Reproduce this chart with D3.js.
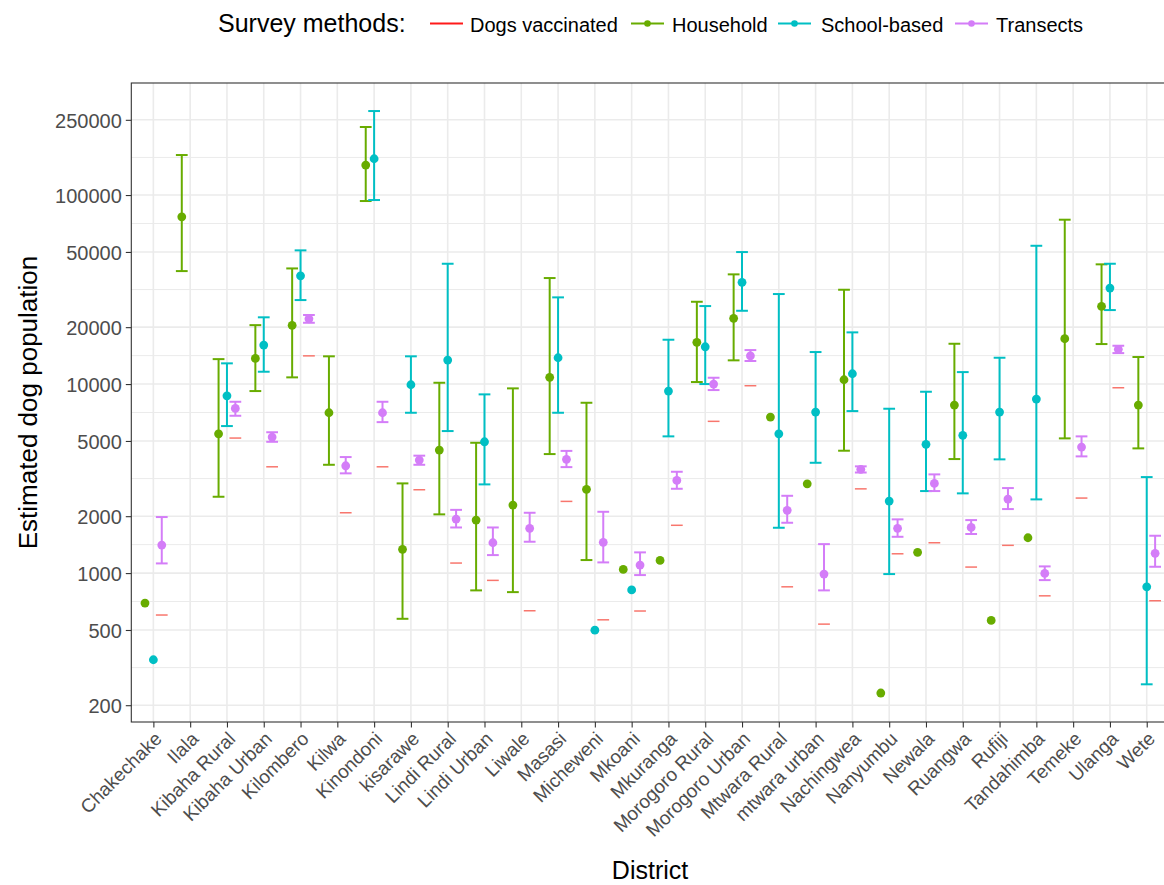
<!DOCTYPE html>
<html>
<head>
<meta charset="utf-8">
<script src="https://cdn.jsdelivr.net/npm/d3@7"></script>
<style>
  html, body { margin: 0; padding: 0; background: #fff; }
  svg { display: block; font-family: "Liberation Sans", Arial, sans-serif; }
</style>
</head>
<body>
<svg id="chart" width="1164" height="885"></svg>
<script>
// ---------------- DATA ----------------
const districts = ["Chakechake","Ilala","Kibaha Rural","Kibaha Urban","Kilombero","Kilwa","Kinondoni","kisarawe","Lindi Rural","Lindi Urban","Liwale","Masasi","Micheweni","Mkoani","Mkuranga","Morogoro Rural","Morogoro Urban","Mtwara Rural","mtwara urban","Nachingwea","Nanyumbu","Newala","Ruangwa","Rufiji","Tandahimba","Temeke","Ulanga","Wete"];

const vaccinated = [600, null, 5180, 3650, 14100, 2085, 3650, 2760, 1130, 915, 632, 2395, 566, 630, 1790, 6350, 9800, 846, 537, 2790, 1265, 1447, 1076, 1402, 758, 2494, 9560, 714];

const household   = [694, 76700, 5456, 13670, 20450, 7050, 144100, 1335, 4477, 1907, 2289, 10850, 2773, 1046, 1167, 16620, 22260, 6690, 2968, 10540, 232, 1287, 7742, 562, 1538, 17370, 25770, 7742];
const householdLo = [null, 39600, 2534, 9183, 10850, 3741, 92960, 573, 2045, 810, 793, 4262, 1172, null, null, 10250, 13350, null, null, 4440, null, null, 4011, null, null, 5160, 16280, 4568];
const householdHi = [null, 162800, 13550, 20500, 40900, 14020, 229000, 2982, 10160, 4891, 9488, 36380, 7963, null, null, 27250, 38050, null, null, 31550, null, null, 16340, null, null, 74050, 42990, 13900];

const school   = [348, null, 8670, 16080, 37400, null, 155600, 9915, 13400, 4951, null, 13780, 499, 815, 9183, 15750, 34520, 5456, 7111, 11340, 2404, 4797, 5353, 7111, 8328, null, 32200, 846];
const schoolLo = [null, null, 5995, 11620, 27820, null, 94100, 7050, 5641, 2946, null, 7050, null, null, 5288, 10000, 24420, 1737, 3833, 7196, 988, 2716, 2641, 3996, 2454, null, 24630, 258];
const schoolHi = [null, null, 12870, 22550, 50970, null, 278200, 14020, 43300, 8820, null, 28750, null, null, 17160, 25860, 49930, 29940, 14770, 18770, 7404, 9106, 11570, 13780, 53900, null, 43300, 3220];

const transects   = [1406, null, 7436, 5244, 22150, 3696, 7050, 3963, 1931, 1447, 1724, 3996, 1454, 1102, 3093, 10000, 14110, 2147, 988, 3538, 1724, 2982, 1745, 2463, 996, 4642, 15260, 1272];
const transectsLo = [1125, null, 6796, 4950, 21100, 3370, 6290, 3741, 1743, 1245, 1465, 3636, 1139, 976, 2793, 9295, 13240, 1846, 810, 3405, 1556, 2716, 1610, 2181, 918, 4144, 14580, 1080];
const transectsHi = [1979, null, 8060, 5560, 23200, 4110, 8060, 4180, 2160, 1743, 2085, 4430, 2110, 1287, 3436, 10800, 15130, 2564, 1423, 3670, 1924, 3328, 1907, 2817, 1085, 5288, 15950, 1576];

const yTicks = [200, 500, 1000, 2000, 5000, 10000, 20000, 50000, 100000, 250000];
const seriesNames = ["Dogs vaccinated", "Household", "School-based", "Transects"];
const legendTitle = "Survey methods:";
const xTitle = "District";
const yTitle = "Estimated dog population";

// ---------------- LAYOUT ----------------
const svg = d3.select("#chart");
const panel = { left: 131.3, right: 1168.8, top: 83, bottom: 722 };
const colors = { vacc: "#F8766D", vaccLegend: "#FF1A1A", household: "#68AC00", school: "#00BFC4", transects: "#D47DF8" };

const x = d3.scalePoint().domain(districts).range([panel.left, panel.right]).padding(0.6);
const step = x.step();
const y = d3.scaleLog().domain([163, 391500]).range([panel.bottom, panel.top]);

const dodge = step * 0.228;
const capHalf = step * 0.16;

// panel background
svg.append("rect").attr("x", panel.left).attr("y", panel.top)
  .attr("width", panel.right - panel.left).attr("height", panel.bottom - panel.top)
  .attr("fill", "#fff");

// minor gridlines (midpoints in log space)
const minor = [];
for (let i = 0; i < yTicks.length - 1; i++) minor.push(Math.sqrt(yTicks[i] * yTicks[i + 1]));
const grid = svg.append("g");
grid.selectAll("line.minor").data(minor).join("line")
  .attr("x1", panel.left).attr("x2", panel.right)
  .attr("y1", d => y(d)).attr("y2", d => y(d))
  .attr("stroke", "#EBEBEB").attr("stroke-width", 1);
grid.selectAll("line.majorY").data(yTicks).join("line")
  .attr("x1", panel.left).attr("x2", panel.right)
  .attr("y1", d => y(d)).attr("y2", d => y(d))
  .attr("stroke", "#EBEBEB").attr("stroke-width", 1.6);
grid.selectAll("line.majorX").data(districts).join("line")
  .attr("y1", panel.top).attr("y2", panel.bottom)
  .attr("x1", d => x(d)).attr("x2", d => x(d))
  .attr("stroke", "#EBEBEB").attr("stroke-width", 1.6);

// ---------------- MARKS ----------------
const marks = svg.append("g");

// vaccinated segments
const vaccData = districts.map((d, i) => ({ d, v: vaccinated[i] })).filter(o => o.v != null);
marks.selectAll("line.vacc").data(vaccData).join("line")
  .attr("x1", o => x(o.d) + dodge - capHalf).attr("x2", o => x(o.d) + dodge + capHalf)
  .attr("y1", o => y(o.v)).attr("y2", o => y(o.v))
  .attr("stroke", colors.vacc).attr("stroke-width", 1.5);

const series = [
  { key: "household", val: household, lo: householdLo, hi: householdHi, off: -dodge, color: colors.household },
  { key: "school", val: school, lo: schoolLo, hi: schoolHi, off: 0, color: colors.school },
  { key: "transects", val: transects, lo: transectsLo, hi: transectsHi, off: dodge, color: colors.transects }
];

series.forEach(s => {
  const data = districts.map((d, i) => ({ d, v: s.val[i], lo: s.lo[i], hi: s.hi[i] })).filter(o => o.v != null);
  const eb = data.filter(o => o.lo != null && o.hi != null);
  const g = marks.append("g").attr("stroke", s.color).attr("stroke-width", 2).attr("fill", "none");
  g.selectAll("line.v").data(eb).join("line")
    .attr("x1", o => x(o.d) + s.off).attr("x2", o => x(o.d) + s.off)
    .attr("y1", o => y(o.lo)).attr("y2", o => y(o.hi));
  g.selectAll("line.top").data(eb).join("line")
    .attr("x1", o => x(o.d) + s.off - capHalf).attr("x2", o => x(o.d) + s.off + capHalf)
    .attr("y1", o => y(o.hi)).attr("y2", o => y(o.hi));
  g.selectAll("line.bot").data(eb).join("line")
    .attr("x1", o => x(o.d) + s.off - capHalf).attr("x2", o => x(o.d) + s.off + capHalf)
    .attr("y1", o => y(o.lo)).attr("y2", o => y(o.lo));
  s.data = data;
});
series.forEach(s => {
  marks.append("g").selectAll("circle").data(s.data).join("circle")
    .attr("cx", o => x(o.d) + s.off).attr("cy", o => y(o.v)).attr("r", 4.4)
    .attr("fill", s.color);
});

// panel border
svg.append("rect").attr("x", panel.left).attr("y", panel.top)
  .attr("width", panel.right - panel.left).attr("height", panel.bottom - panel.top)
  .attr("fill", "none").attr("stroke", "#333333").attr("stroke-width", 1.1);

// ---------------- AXES ----------------
const yAxis = svg.append("g").attr("transform", `translate(${panel.left},0)`)
  .call(d3.axisLeft(y).tickValues(yTicks).tickFormat(d3.format("d")).tickSize(5.5).tickPadding(4));
yAxis.select(".domain").remove();
yAxis.selectAll(".tick line").attr("stroke", "#333333").attr("stroke-width", 1.1);
yAxis.selectAll(".tick text").attr("fill", "#4D4D4D").style("font-size", "20px")
  .style("font-family", "'Liberation Sans', Arial, sans-serif").attr("dy", "0.36em");

const xAxis = svg.append("g").attr("transform", `translate(0,${panel.bottom})`)
  .call(d3.axisBottom(x).tickSize(5.5).tickPadding(3));
xAxis.select(".domain").remove();
xAxis.selectAll(".tick line").attr("stroke", "#333333").attr("stroke-width", 1.1);
xAxis.selectAll(".tick text")
  .attr("fill", "#4D4D4D").style("font-size", "19px")
  .style("font-family", "'Liberation Sans', Arial, sans-serif")
  .attr("text-anchor", "end").attr("dy", null).attr("y", null)
  .attr("transform", "translate(9,18) rotate(-45)");

// axis titles
svg.append("text").attr("x", (panel.left + panel.right) / 2).attr("y", 879)
  .attr("text-anchor", "middle").style("font-size", "25px").attr("fill", "#000").text(xTitle);
svg.append("text").attr("transform", `translate(37,${(panel.top + panel.bottom) / 2}) rotate(-90)`)
  .attr("text-anchor", "middle").style("font-size", "26px").attr("fill", "#000").text(yTitle);

// ---------------- LEGEND ----------------
const lg = svg.append("g");
lg.append("text").attr("x", 218).attr("y", 32).style("font-size", "25px").attr("fill", "#000").text(legendTitle);
const legendItems = [
  { name: seriesNames[0], color: colors.vaccLegend, keyX: 430, textX: 470, dot: false },
  { name: seriesNames[1], color: colors.household, keyX: 631, textX: 672, dot: true },
  { name: seriesNames[2], color: colors.school, keyX: 778, textX: 821, dot: true },
  { name: seriesNames[3], color: colors.transects, keyX: 955, textX: 996, dot: true }
];
legendItems.forEach(it => {
  lg.append("line").attr("x1", it.keyX).attr("x2", it.keyX + 33).attr("y1", 23.5).attr("y2", 23.5)
    .attr("stroke", it.color).attr("stroke-width", 2);
  if (it.dot) lg.append("circle").attr("cx", it.keyX + 16.5).attr("cy", 23.5).attr("r", 3.3).attr("fill", it.color);
  lg.append("text").attr("x", it.textX).attr("y", 31.5).style("font-size", "20px").attr("fill", "#000").text(it.name);
});
</script>
</body>
</html>
